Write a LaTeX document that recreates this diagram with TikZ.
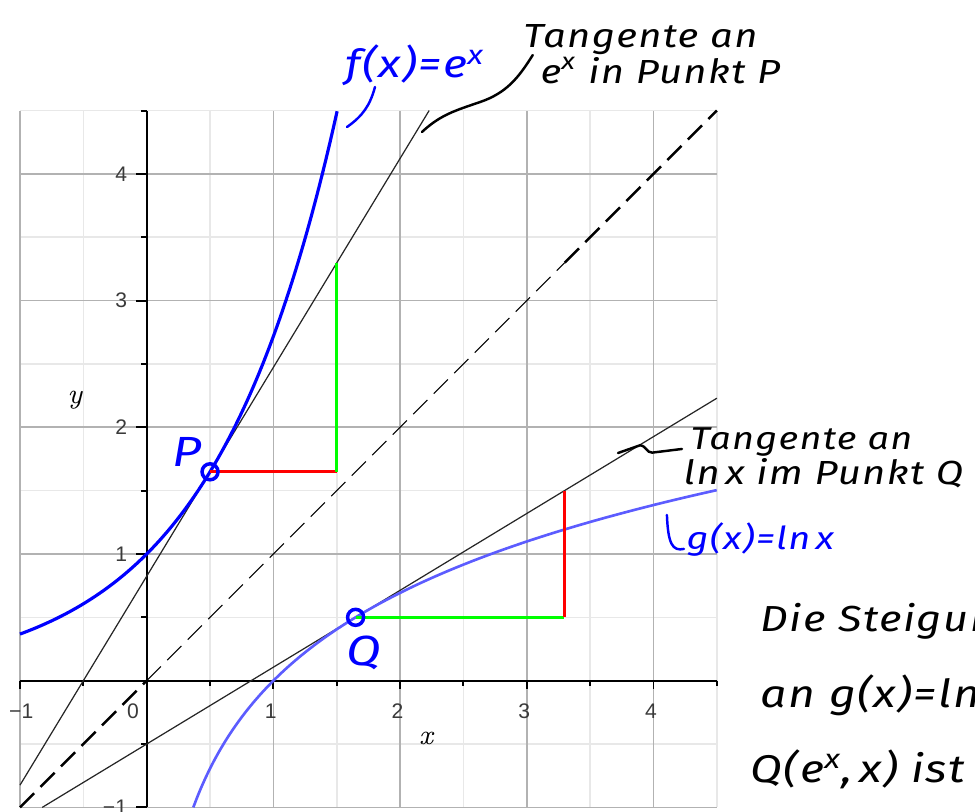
\documentclass[tikz,border=0pt]{standalone}
\usepackage{fontspec}
\usepackage{tikz}
\usepackage{xcolor}
\newfontfamily\handfont{Fira Sans}[FakeStretch=1.2, LetterSpace=4]
\newfontfamily\tickfont{Liberation Sans}
\definecolor{lnblue}{HTML}{5C5CFF}
\definecolor{tickgray}{HTML}{3A3A3A}

\begin{document}
\begin{tikzpicture}[
          x=1.267cm, y=1.267cm,
          minorgrid/.style={draw=black!9, line width=0.45pt},
          majorgrid/.style={draw=black!30, line width=0.45pt},
          axisline/.style={draw=black, line width=0.55pt},
          ticklbl/.style={font=\tickfont\fontsize{6}{7}\selectfont, text=tickgray, inner sep=0pt},
          axlbl/.style={font=\fontsize{8}{9}\selectfont\itshape, inner sep=0pt},
          fcurve/.style={draw=blue, line width=0.9pt},
          gcurve/.style={draw=lnblue, line width=0.75pt},
          tangent/.style={draw=black!85, line width=0.35pt},
          diag/.style={draw=black, dash pattern=on 2mm off 0.9mm},
          riseline/.style={draw=red, line width=0.8pt},
          runline/.style={draw=green, line width=0.8pt},
          touch/.style={circle, draw=blue, line width=1pt, minimum size=1.6mm, inner sep=0pt},
          hand/.style={font=\handfont\itshape\fontsize{9.5}{11}\selectfont, inner sep=0pt, anchor=base west},
          handbig/.style={font=\handfont\itshape\fontsize{11}{13}\selectfont, inner sep=0pt, anchor=base west},
          leader/.style={draw=black, line width=0.7pt, line cap=round}
      ]
        \useasboundingbox (-1.1578,-1.0363) rectangle (6.5375,5.3725);
        \clip (-1.1578,-1.0363) rectangle (6.5375,5.3725);
        \draw[minorgrid] (-1,-1) grid[step=0.5] (4.5,4.5);
        \draw[majorgrid] (-1,-1) grid[step=1] (4.5,4.5);
        \draw[axisline] (-1,0) -- (4.5,0);
        \draw[axisline] (0,-1) -- (0,4.5);
        \foreach \t in {-1,...,4} {
          \draw[axisline] (0,\t) -- ++(-0.085,0);
          \draw[axisline] (\t,0) -- ++(0,-0.065);
        }
        \foreach \t in {-0.5,0.5,...,4.5} {
          \draw[axisline] (0,\t) -- ++(-0.045,0);
          \draw[axisline] (\t,0) -- ++(0,-0.045);
        }
        \foreach \v in {1,...,4} {
          \node[ticklbl, anchor=east] (yl\v) at (-0.15,\v) {\v};
          \node[ticklbl] (xl\v) at (\v-0.02,-0.24) {\v};
        }
        \node[ticklbl, anchor=east] (ylm) at (-0.15,-1) {−1};
        \node[ticklbl] (xlm) at (-0.99,-0.24) {−1};
        \node[ticklbl] (xl0) at (-0.108,-0.24) {0};
        \node[axlbl] (xname) at (2.205,-0.454) {x};
        \node[axlbl] (yname) at (-0.566,2.215) {y};

        \draw[diag, line width=0.75pt] (-1,-1) -- (0,0);
        \draw[diag, line width=0.35pt] (0,0) -- (3.3,3.3);
        \draw[diag, line width=0.75pt] (3.3,3.3) -- (4.5,4.5);
        \draw[tangent] (-1,-0.8244) -- (2.2294,4.5);
        \draw[tangent] (-0.8244,-1) -- (4.5,2.2294);
        \draw[fcurve] plot[domain=-1:1.5041, samples=90, smooth] (\x,{exp(\x)});
        \draw[gcurve] plot[domain=0.3679:4.5, samples=120, smooth] (\x,{ln(\x)});

        \coordinate (P) at (0.5,1.6487);
        \coordinate (Pc) at (1.5,1.6487);
        \coordinate (Pt) at (1.5,3.2974);
        \coordinate (Q) at (1.6487,0.5);
        \coordinate (Qc) at (3.2974,0.5);
        \coordinate (Qt) at (3.2974,1.5);
        \draw[riseline] (P) -- (Pc);
        \draw[runline] (Pc) -- (Pt);
        \draw[runline] (Q) -- (Qc);
        \draw[riseline] (Qc) -- (Qt);
        \node[touch] (ptP) at (P) {};
        \node[touch] (ptQ) at (Q) {};
        \node[font=\handfont\itshape\fontsize{12}{14}\selectfont, text=blue, inner sep=0pt] (labP) at (0.318,1.803) {P};
        \node[font=\handfont\itshape\fontsize{12}{14}\selectfont, text=blue, inner sep=0pt] (labQ) at (1.716,0.218) {Q};

        \node[hand, text=blue, font=\handfont\itshape\fontsize{11}{13}\selectfont] (fLbl) at (1.565,4.757) {f(x)=e\textsuperscript{x}};
        \node[hand] (tanP1) at (2.968,5.001) {Tangente an};
        \node[hand] (tanP2) at (3.104,4.717) {e\textsuperscript{x} in Punkt P};
        \node[hand, font=\handfont\itshape\fontsize{9}{11}\selectfont] (tanQ1) at (4.288,1.821) {Tangente an};
        \node[hand] (tanQ2) at (4.233,1.545) {ln\,x im Punkt Q};
        \node[hand, text=blue, font=\handfont\itshape\fontsize{9}{11}\selectfont] (gLbl) at (4.256,1.032) {g(x)=ln\,x};
        \node[handbig, font=\handfont\itshape\fontsize{10.3}{13}\selectfont] (note1) at (4.840,0.385) {Die Steigung};
        \node[handbig] (note2) at (4.840,-0.215) {an g(x)=ln};
        \node[handbig] (note3) at (4.762,-0.80) {Q(e\textsuperscript{x},\,x) ist};

        \coordinate (fTip) at (1.581,4.370);
        \coordinate (tanPtip) at (2.173,4.331);
        \coordinate (tanQtip) at (3.720,1.797);
        \coordinate (gTip) at (4.106,1.308);
        \draw[leader, draw=blue] ([shift={(3mm,-0.9mm)}]fLbl.base west) to[bend left=20] (fTip);
        \draw[leader] ([shift={(1mm,-0.8mm)}]tanP1.base west) to[out=238,in=19] (2.631,4.567) to[out=199,in=43] (tanPtip);
        \draw[leader] (tanQtip) -- (3.894,1.858) .. controls (3.95,1.85) and (3.94,1.80) .. (3.99,1.80) -- ([shift={(-0.8mm,0.1mm)}]tanQ1.base west);
        \draw[leader, draw=blue] ([shift={(-0.2mm,0.1mm)}]gLbl.base west) .. controls (4.15,1.02) and (4.115,1.08) .. (gTip);
      \end{tikzpicture}
\end{document}
